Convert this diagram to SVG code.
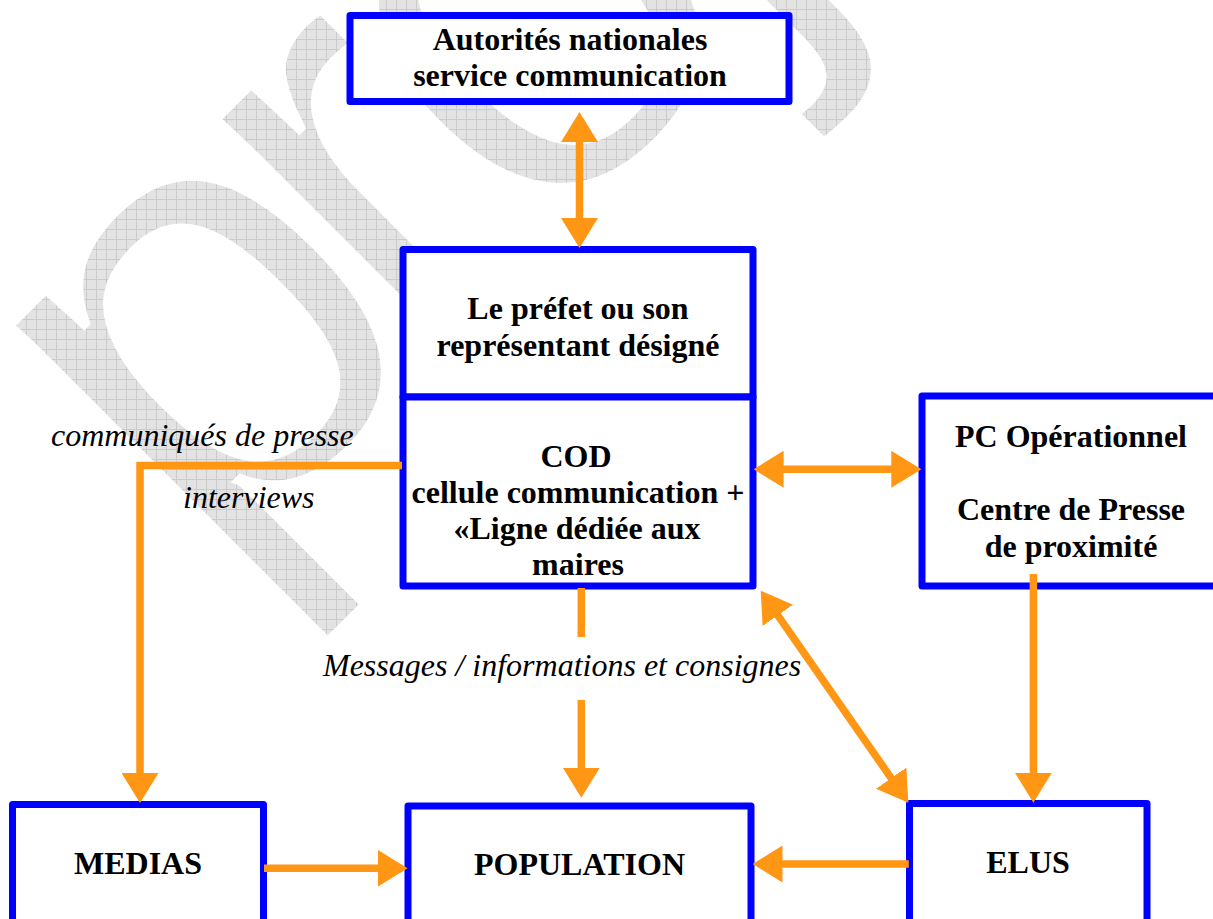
<svg xmlns="http://www.w3.org/2000/svg" width="1213" height="919" viewBox="0 0 1213 919">
<style>
.box{fill:#ffffff;stroke:#0000ff;stroke-width:7;stroke-linejoin:round}
.bt{font-family:"Liberation Serif","Times New Roman",serif;font-weight:bold;font-size:32px;fill:#000;text-anchor:middle}
.it{font-family:"Liberation Serif","Times New Roman",serif;font-style:italic;font-size:32px;fill:#000}
.con{fill:none;stroke:#FF9614;stroke-width:7.5;stroke-linejoin:miter}
.wm{font-family:"Liberation Sans",Arial,sans-serif;font-size:611px;fill:url(#chk);stroke:#ffffff;stroke-width:10}
</style>
<defs>
<pattern id="chk" width="10" height="10" patternUnits="userSpaceOnUse" patternTransform="rotate(45) translate(-3 7)">
<rect width="10" height="10" fill="#e3e3e3"/>
<path d="M0 0.5H10M0.5 0V10" stroke="#cbcbcb" stroke-width="1"/>
</pattern>
<marker id="ah" markerUnits="userSpaceOnUse" markerWidth="30" markerHeight="37" viewBox="0 0 30 37" refX="10" refY="18.5" orient="auto-start-reverse">
<path d="M0,0L30,18.5L0,37z" fill="#FF9614"/>
</marker>
</defs>
<rect width="1213" height="919" fill="#ffffff"/>
<g id="watermark">
<text class="wm" transform="translate(209 582) rotate(-45)" y="0"><tspan x="0">p</tspan><tspan x="291">r</tspan><tspan x="459">o</tspan><tspan x="760">j</tspan></text>
</g>
<g id="autorites">
<rect class="box" x="350" y="15.5" width="439" height="86"/>
<text class="bt" x="570" y="49.5">Autorités nationales</text>
<text class="bt" x="570" y="85.5">service communication</text>
</g>
<g id="prefet">
<rect class="box" x="403" y="249.5" width="350" height="147.5"/>
<text class="bt" x="578" y="319">Le préfet ou son</text>
<text class="bt" x="578" y="356">représentant désigné</text>
</g>
<g id="cod">
<rect class="box" x="403" y="397" width="350" height="189"/>
<text class="bt" x="576" y="467">COD</text>
<text class="bt" x="578" y="502.5">cellule communication +</text>
<text class="bt" x="577" y="538.5">«Ligne dédiée aux</text>
<text class="bt" x="578" y="575">maires</text>
</g>
<g id="pc">
<rect class="box" x="922" y="396" width="300" height="190"/>
<text class="bt" x="1071" y="447">PC Opérationnel</text>
<text class="bt" x="1071" y="520">Centre de Presse</text>
<text class="bt" x="1071" y="557">de proximité</text>
</g>
<g id="medias">
<rect class="box" x="12.5" y="804.5" width="251" height="130"/>
<text class="bt" x="138" y="874">MEDIAS</text>
</g>
<g id="population">
<rect class="box" x="408" y="806" width="343" height="130"/>
<text class="bt" x="579.5" y="875">POPULATION</text>
</g>
<g id="elus">
<rect class="box" x="909.5" y="803.5" width="237.5" height="130"/>
<text class="bt" x="1028" y="873">ELUS</text>
</g>
<g id="connectors">
<line class="con" x1="579.5" y1="132" x2="579.5" y2="228" marker-start="url(#ah)" marker-end="url(#ah)"/>
<line class="con" x1="773.6" y1="469.3" x2="901.3" y2="469.3" marker-start="url(#ah)" marker-end="url(#ah)"/>
<polyline class="con" points="402,465.5 140,465.5 140,783" marker-end="url(#ah)"/>
<line class="con" x1="581.3" y1="588" x2="581.3" y2="637"/>
<line class="con" x1="581.3" y1="700" x2="581.3" y2="777.7" marker-end="url(#ah)"/>
<line class="con" x1="1033.4" y1="574" x2="1033.4" y2="782.7" marker-end="url(#ah)"/>
<line class="con" x1="772.1" y1="607.1" x2="896.9" y2="786.3" marker-start="url(#ah)" marker-end="url(#ah)"/>
<line class="con" x1="264" y1="868.3" x2="387.6" y2="868.3" marker-end="url(#ah)"/>
<line class="con" x1="908.8" y1="864" x2="772.5" y2="864" marker-end="url(#ah)"/>
</g>
<g id="labels">
<text class="it" x="51" y="446">communiqués de presse</text>
<text class="it" x="183" y="508">interviews</text>
<text class="it" x="323" y="676">Messages / informations et consignes</text>
</g>
</svg>
